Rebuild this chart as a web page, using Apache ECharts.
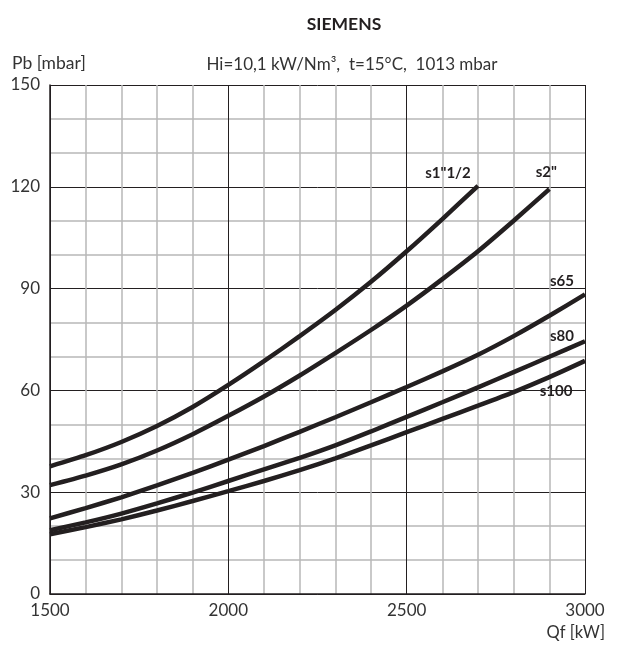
<!DOCTYPE html>
<html>
<head>
<meta charset="utf-8">
<script src="https://cdn.jsdelivr.net/npm/echarts@6/dist/echarts.min.js"></script>
<style>
  html, body { margin: 0; padding: 0; background: #fff; }
  #chart { width: 621px; height: 651px; }
</style>
</head>
<body>
<div id="chart"></div>
<script>
// Qf [kW] sample points
var qf = [1500, 1600, 1700, 1800, 1900, 2000, 2100, 2200, 2300, 2400, 2500, 2600, 2700, 2800, 2900, 3000];

// Pb [mbar]
var s1_12 = [37.6, 40.9, 44.8, 49.5, 55.1, 61.6, 68.6, 76.0, 83.7, 92.0, 101.0, 110.5, 120.3];
var s2 = [32.1, 34.9, 38.2, 42.3, 47.1, 52.5, 58.2, 64.4, 71.0, 77.8, 85.0, 92.8, 101.0, 110.0, 119.3];
var s65 = [22.3, 25.3, 28.5, 32.0, 35.7, 39.6, 43.6, 47.8, 52.1, 56.5, 61.0, 65.6, 70.5, 76.0, 82.0, 88.3];
var s80 = [18.8, 21.1, 23.7, 26.7, 29.9, 33.3, 36.7, 40.1, 43.8, 47.9, 52.2, 56.5, 60.9, 65.4, 69.9, 74.5];
var s100 = [17.6, 19.7, 22.0, 24.6, 27.4, 30.3, 33.3, 36.5, 40.0, 43.8, 47.7, 51.6, 55.5, 59.5, 63.9, 68.7];

var xTicks = [1500, 2000, 2500, 3000];
var yTicks = [0, 30, 60, 90, 120, 150];

var FONT = 'Lato';
var INK = '#231f20';

function pairs(vals) {
  return vals.map(function (v, i) { return [qf[i], v]; });
}

function curve(name, vals, offset) {
  return {
    name: name,
    type: 'line',
    data: pairs(vals),
    smooth: 0.2,
    showSymbol: false,
    symbol: 'none',
    lineStyle: { color: INK, width: 4.5 },
    endLabel: {
      show: true,
      formatter: '{a}',
      color: INK,
      fontFamily: FONT,
      fontWeight: 'bold',
      fontSize: 15,
      distance: 0,
      align: 'center',
      verticalAlign: 'middle',
      offset: offset
    },
    z: 5
  };
}

var chart = echarts.init(document.getElementById('chart'));
var option = {
  animation: false,
  backgroundColor: '#fff',
  title: [{
    text: 'SIEMENS',
    left: 339,
    top: 10,
    textAlign: 'center',
    textStyle: { fontFamily: FONT, fontSize: 17.5, fontWeight: 'bold', color: INK }
  }, {
    text: 'Hi=10,1 kW/Nm³,  t=15°C,  1013 mbar',
    left: 347,
    top: 51,
    textAlign: 'center',
    textStyle: { fontFamily: FONT, fontSize: 17, fontWeight: 'normal', color: '#333' }
  }],
  grid: { left: 50, right: 36, top: 85, bottom: 57, outerBoundsMode: 'none' },
  xAxis: {
    type: 'value',
    min: 1500,
    max: 3000,
    interval: 500,
    name: 'Qf [kW]',
    nameLocation: 'end',
    nameGap: 0,
    nameTextStyle: { fontFamily: FONT, fontSize: 16.5, color: '#333', align: 'right', verticalAlign: 'top', padding: [30, -20, 0, 0] },
    axisLine: { show: true, lineStyle: { color: INK, width: 1.5 } },
    axisTick: { show: false },
    axisLabel: {
      fontFamily: FONT, fontSize: 17, color: '#333', margin: 8,
      formatter: function (v) { return xTicks.indexOf(v) >= 0 ? String(v) : ''; }
    },
    splitLine: { show: true, lineStyle: { color: INK, width: 1 } },
    minorTick: { show: false, splitNumber: 5 },
    minorSplitLine: { show: true, lineStyle: { color: '#b8b8b8', width: 1.5 } }
  },
  yAxis: {
    type: 'value',
    min: 0,
    max: 150,
    interval: 30,
    name: 'Pb [mbar]',
    nameLocation: 'end',
    nameGap: 13,
    nameTextStyle: { fontFamily: FONT, fontSize: 17.5, color: '#333', align: 'left', padding: [0, 0, 0, -38] },
    axisLine: { show: true, lineStyle: { color: INK, width: 1.5 } },
    axisTick: { show: false },
    axisLabel: {
      fontFamily: FONT, fontSize: 17, color: '#333', margin: 10,
      formatter: function (v) { return yTicks.indexOf(v) >= 0 ? String(v) : ''; }
    },
    splitLine: { show: true, lineStyle: { color: INK, width: 1 } },
    minorTick: { show: false, splitNumber: 3 },
    minorSplitLine: { show: true, lineStyle: { color: '#b8b8b8', width: 1.5 } }
  },
  series: [
    curve('s1"1/2', s1_12, [-30, -13]),
    curve('s2"', s2, [-3, -17]),
    curve('s65', s65, [-23, -13]),
    curve('s80', s80, [-23, -5]),
    curve('s100', s100, [-29, 30])
  ]
};
chart.setOption(option);
window.addEventListener('resize', function () {
  chart.resize();
});
</script>
</body>
</html>
